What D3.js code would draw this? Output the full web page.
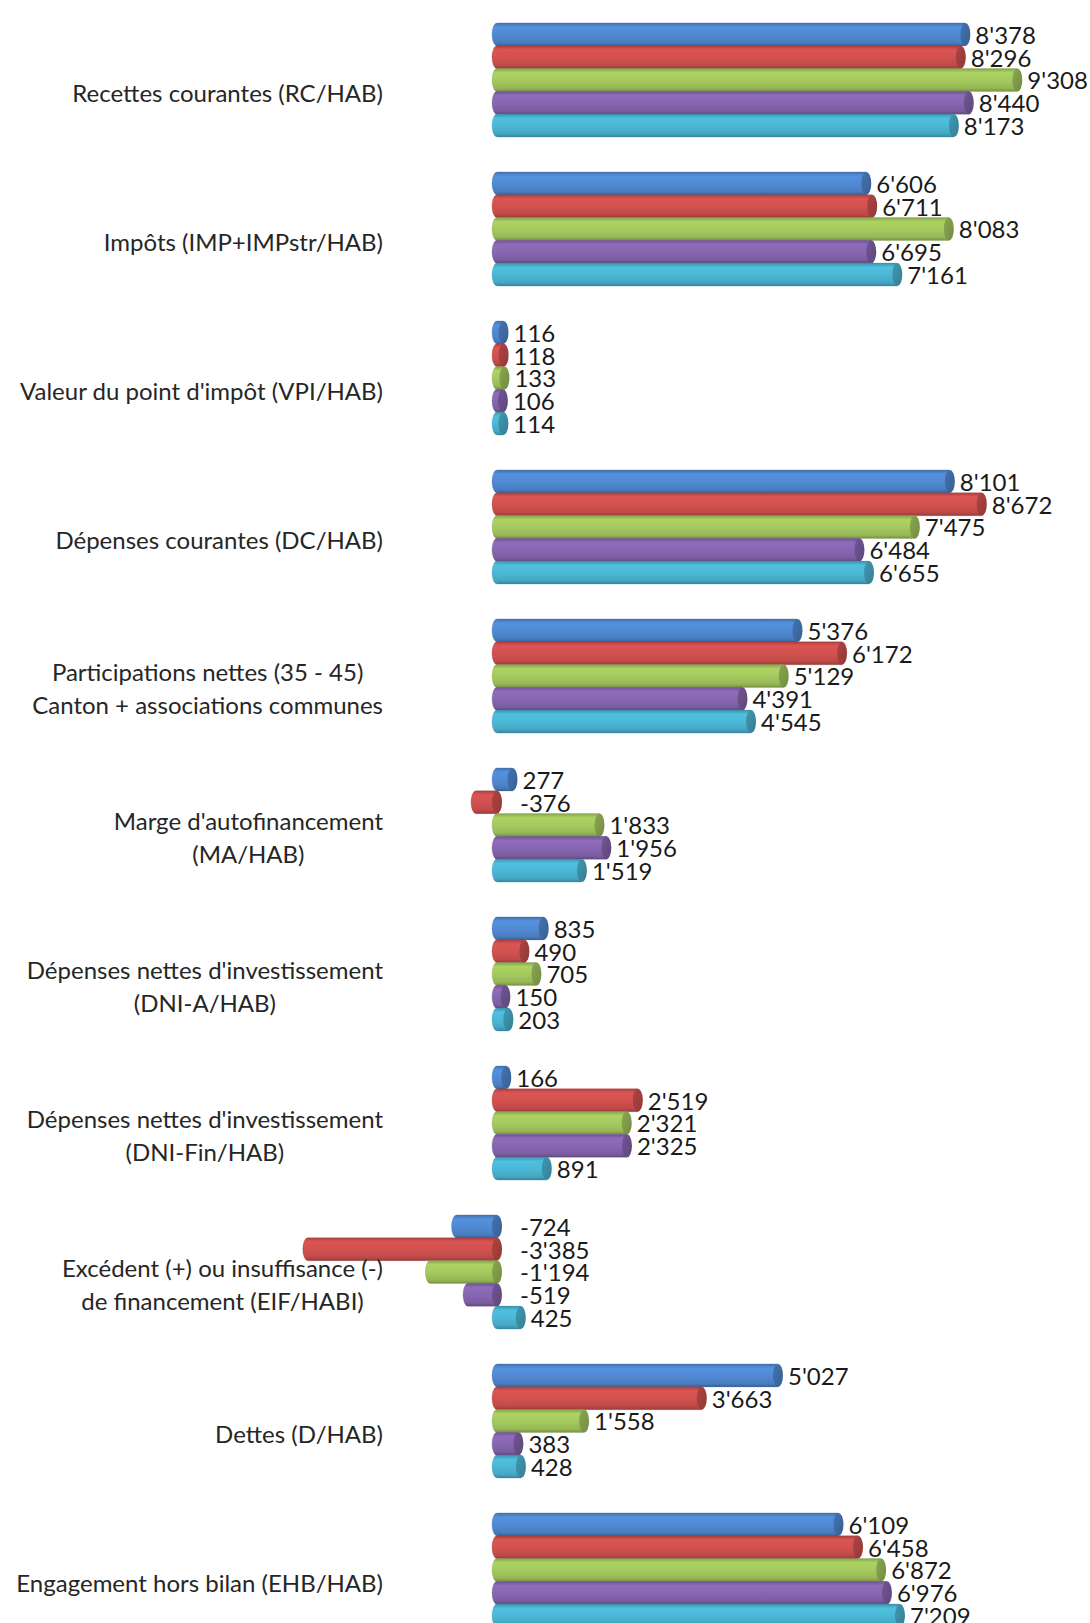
<!DOCTYPE html>
<html>
<head>
<meta charset="utf-8">
<script src="https://cdn.jsdelivr.net/npm/d3@7"></script>
<style>
    body { margin: 0; background: #ffffff; }
    svg { display: block; }
    .cat-label { font-family: Lato, "Open Sans", sans-serif; font-size: 24px; fill: #262626; }
    .val-label { font-family: Lato, "Open Sans", sans-serif; font-size: 24px; fill: #1a1a1a; }
</style>
</head>
<body>
<svg id="chart"></svg>
<script>
// Categories (one label line per entry)
const categories = [
    ["Recettes courantes (RC/HAB)"],
    ["Impôts (IMP+IMPstr/HAB)"],
    ["Valeur du point d'impôt (VPI/HAB)"],
    ["Dépenses courantes (DC/HAB)"],
    ["Participations nettes (35 - 45)", "Canton + associations communes"],
    ["Marge d'autofinancement", "(MA/HAB)"],
    ["Dépenses nettes d'investissement", "(DNI-A/HAB)"],
    ["Dépenses nettes d'investissement", "(DNI-Fin/HAB)"],
    ["Excédent (+) ou insuffisance (-)", "de financement (EIF/HABI)"],
    ["Dettes (D/HAB)"],
    ["Engagement hors bilan (EHB/HAB)"]
];

// Five series, one value per category
const seriesBlue   = [8378, 6606, 116, 8101, 5376, 277, 835, 166, -724, 5027, 6109];
const seriesRed    = [8296, 6711, 118, 8672, 6172, -376, 490, 2519, -3385, 3663, 6458];
const seriesGreen  = [9308, 8083, 133, 7475, 5129, 1833, 705, 2321, -1194, 1558, 6872];
const seriesPurple = [8440, 6695, 106, 6484, 4391, 1956, 150, 2325, -519, 383, 6976];
const seriesCyan   = [8173, 7161, 114, 6655, 4545, 1519, 203, 891, 425, 428, 7209];

const seriesList = [seriesBlue, seriesRed, seriesGreen, seriesPurple, seriesCyan];
const seriesColors = ["#5089d2", "#d0514f", "#a4c85e", "#8766b0", "#4bb6d4"];

const width = 1090, height = 1623;
const barH = 23, capRx = 5;

const svg = d3.select("#chart").attr("width", width).attr("height", height);
const defs = svg.append("defs");

// x: value -> pixel (zero at 497, 0.0559 px per unit)
const x = d3.scaleLinear().domain([-4000, 10000]).range([497 - 223.6, 497 + 559]);

// category band and series band
const yCat = d3.scaleBand()
    .domain(d3.range(categories.length))
    .range([80 - 74.5, 80 + 149 * 10 + 74.5]);
const ySer = d3.scaleBand()
    .domain(d3.range(seriesList.length))
    .range([-2.5 * 22.8, 2.5 * 22.8]);

// shading gradients for cylinder bodies and caps
seriesColors.forEach((c, i) => {
    const base = d3.color(c);
    const body = defs.append("linearGradient")
        .attr("id", "body" + i).attr("x1", 0).attr("y1", 0).attr("x2", 0).attr("y2", 1);
    body.append("stop").attr("offset", "0%").attr("stop-color", base.darker(0.6));
    body.append("stop").attr("offset", "18%").attr("stop-color", base.brighter(0.15));
    body.append("stop").attr("offset", "55%").attr("stop-color", base);
    body.append("stop").attr("offset", "85%").attr("stop-color", base.darker(0.25));
    body.append("stop").attr("offset", "100%").attr("stop-color", base.darker(0.9));

    const cap = defs.append("linearGradient")
        .attr("id", "cap" + i).attr("x1", 0).attr("y1", 0).attr("x2", 1).attr("y2", 1);
    cap.append("stop").attr("offset", "0%").attr("stop-color", base.darker(0.5));
    cap.append("stop").attr("offset", "100%").attr("stop-color", base.darker(1.0));
});

const g = svg.append("g");

categories.forEach((lines, ci) => {
    const cy = yCat(ci) + yCat.bandwidth() / 2;

    seriesList.forEach((vals, si) => {
        const v = vals[ci];
        const yc = cy + ySer(si) + ySer.bandwidth() / 2;
        const x0 = Math.min(x(0), x(v));
        const x1 = Math.max(x(0), x(v));
        const ry = barH / 2;

        // cylinder body with a rounded left end
        g.append("path")
            .attr("d", `M${x1},${yc - ry} L${x0},${yc - ry}
                        A${capRx},${ry} 0 0 0 ${x0},${yc + ry}
                        L${x1},${yc + ry} Z`)
            .attr("fill", `url(#body${si})`)
            .attr("stroke", d3.color(seriesColors[si]).darker(0.8))
            .attr("stroke-width", 0.5)
            .attr("stroke-opacity", 0.5);

        // visible end cap on the right
        g.append("ellipse")
            .attr("cx", x1).attr("cy", yc)
            .attr("rx", capRx).attr("ry", ry)
            .attr("fill", `url(#cap${si})`);

        // value label
        const lx = v >= 0 ? x(v) + capRx + 5 : x(0) + capRx + 18;
        g.append("text")
            .attr("class", "val-label")
            .attr("x", lx)
            .attr("y", yc + 1)
            .attr("dy", "0.35em")
            .text(d3.format(",")(v).replace(/,/g, "'").replace("−", "-"));
    });

    // category label: lines centred on each other, block right-aligned
    const right = 383, lineH = 33;
    const texts = lines.map((ln, li) => g.append("text")
        .attr("class", "cat-label")
        .attr("y", cy + 13.5 + (li - (lines.length - 1) / 2) * lineH)
        .attr("dy", "0.35em")
        .attr("text-anchor", "middle")
        .text(ln));
    const maxW = d3.max(texts, t => t.node().getComputedTextLength());
    texts.forEach(t => t.attr("x", right - maxW / 2));
});
</script>
</body>
</html>
